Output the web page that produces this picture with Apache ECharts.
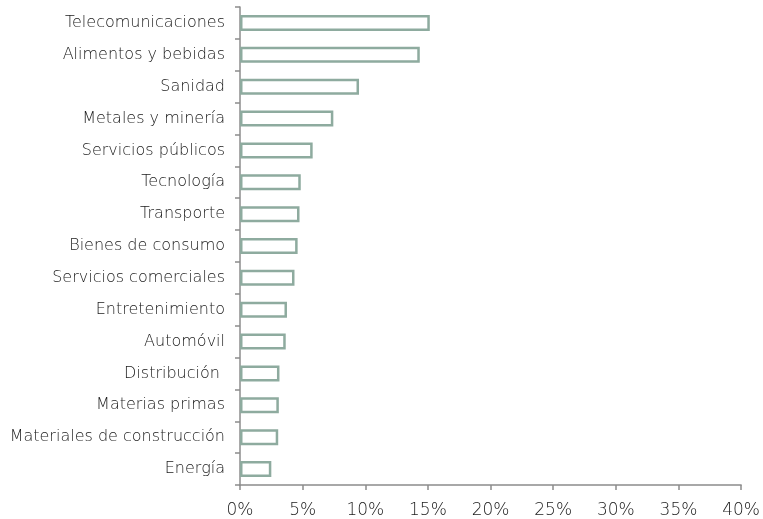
<!DOCTYPE html>
<html>
<head>
<meta charset="utf-8">
<script src="https://cdn.jsdelivr.net/npm/echarts@6/dist/echarts.min.js"></script>
<style>html,body{margin:0;padding:0;background:#fff}#c{width:763px;height:519px}</style>
</head>
<body>
<div id="c"></div>
<script>
const categories = ["Telecomunicaciones","Alimentos y bebidas","Sanidad","Metales y minería","Servicios públicos","Tecnología","Transporte","Bienes de consumo","Servicios comerciales","Entretenimiento","Automóvil","Distribución ","Materias primas","Materiales de construcción","Energía"];
const values = [15.15,14.35,9.5,7.45,5.8,4.85,4.75,4.6,4.35,3.75,3.65,3.15,3.1,3.05,2.5];
const xTicks = [0,5,10,15,20,25,30,35,40];

const chart = echarts.init(document.getElementById('c'), null, {renderer:'canvas'});
const axisColor = '#8c8c8c';
const font = '"DejaVu Sans", sans-serif';
chart.setOption({
  animation:false,
  grid:{left:240,right:20,top:7,bottom:34,containLabel:false},
  xAxis:{
    type:'value',min:xTicks[0],max:xTicks[xTicks.length-1],interval:5,
    axisLine:{show:true,lineStyle:{color:axisColor,width:1.5}},
    axisTick:{show:true,length:5,lineStyle:{color:axisColor,width:1.5}},
    splitLine:{show:false},
    axisLabel:{formatter:v=>v+'%',color:'#1a1a1a',fontSize:17,fontWeight:200,fontFamily:font,margin:17}
  },
  yAxis:{
    type:'category',data:categories,inverse:true,
    axisLine:{show:true,lineStyle:{color:axisColor,width:1.5}},
    axisTick:{show:true,length:5,lineStyle:{color:axisColor,width:1.5}},
    axisLabel:{color:'#1a1a1a',fontSize:16,fontWeight:200,fontFamily:font,margin:15}
  },
  series:[{
    type:'bar',data:values,barWidth:16,
    itemStyle:{color:'#ffffff',borderColor:'#8eab9f',borderWidth:2.5}
  }]
});
</script>
</body>
</html>
